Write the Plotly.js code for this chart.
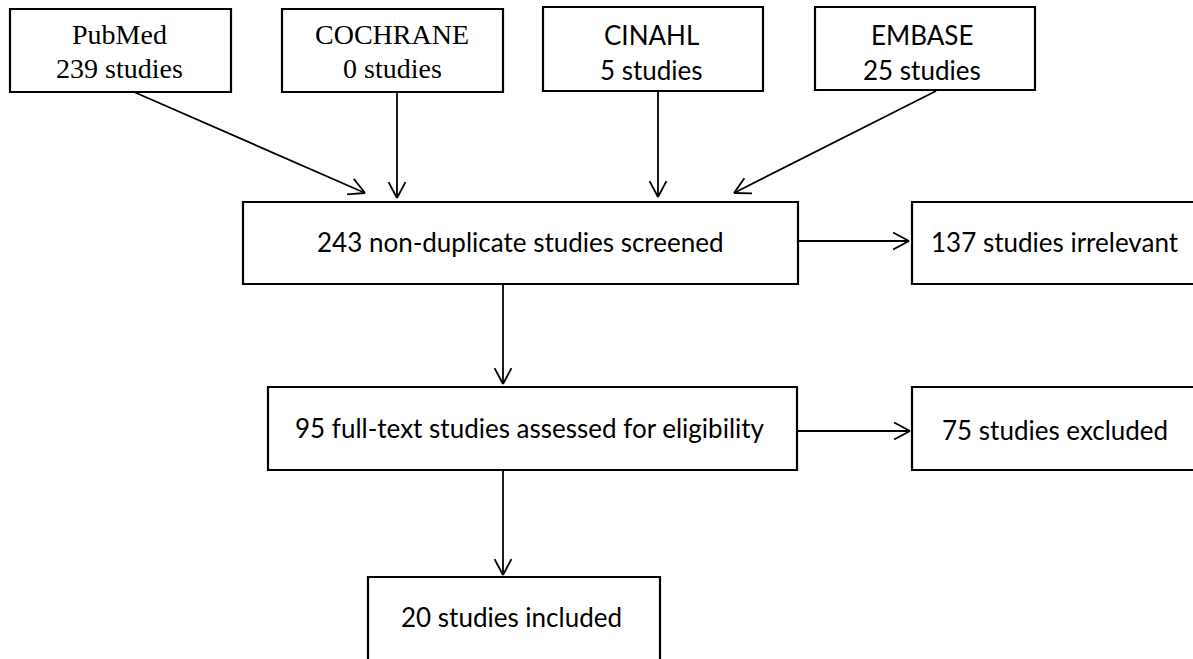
<!DOCTYPE html>
<html>
<head>
<meta charset="utf-8">
<script src="https://cdn.plot.ly/plotly-3.0.1.min.js"></script>
<style>html,body{margin:0;padding:0;background:#fff;}#chart{width:1193px;height:659px;}</style>
</head>
<body>
<div id="chart"></div>
<script>
// ---- data ----
const sourceNames = ['PubMed', 'COCHRANE', 'CINAHL', 'EMBASE'];
const sourceCounts = [239, 0, 5, 25];
const stageLabels = ['non-duplicate studies screened', 'full-text studies assessed for eligibility', 'studies included'];
const stageCounts = [243, 95, 20];
const exclLabels = ['studies irrelevant', 'studies excluded'];
const exclCounts = [137, 75];

// ---- geometry (pixel layout of the flow diagram) ----
const srcBoxes = [
  {x0: 10, x1: 231, y0: 9, y1: 92, cx: 119, l1: 34, l2: 68, font: 'Liberation Serif', size: 28},
  {x0: 282, x1: 503, y0: 9, y1: 92, cx: 392, l1: 34, l2: 68, font: 'Liberation Serif', size: 28},
  {x0: 543, x1: 763, y0: 7, y1: 91, cx: 651, l1: 35, l2: 70, font: 'Lato', size: 26},
  {x0: 815, x1: 1035, y0: 7, y1: 90, cx: 922, l1: 35, l2: 70, font: 'Lato', size: 26}
];
const srcArrows = [
  [134, 92, 365, 193],
  [397, 92, 397, 198],
  [658, 91, 658, 197],
  [936, 91, 734, 193]
];
const stageBoxes = [
  {x0: 243, x1: 798, y0: 202, y1: 284, cx: 520, cy: 242},
  {x0: 268, x1: 797, y0: 387, y1: 470, cx: 530, cy: 428},
  {x0: 368, x1: 660, y0: 577, y1: 662, cx: 511, cy: 617}
];
const exclBoxes = [
  {x0: 912, x1: 1196, y0: 202, y1: 284, cx: 1055, cy: 242},
  {x0: 912, x1: 1196, y0: 387, y1: 470, cx: 1055, cy: 430}
];
const flowArrows = [
  [503, 284, 503, 384],
  [503, 470, 503, 575],
  [798, 241, 909, 241],
  [797, 431, 910, 431]
];

const shapes = [];
const annotations = [];
const boxLine = {color: '#000', width: 2.2};
const arrowLine = {color: '#000', width: 1.8};

function addBox(b) {
  shapes.push({type: 'rect', xref: 'x', yref: 'y', x0: b.x0, x1: b.x1, y0: b.y0, y1: b.y1, line: boxLine, fillcolor: 'rgba(0,0,0,0)'});
}
function addArrow(a) {
  const [x0, y0, x1, y1] = a;
  shapes.push({type: 'line', xref: 'x', yref: 'y', x0, y0, x1, y1, line: arrowLine});
  const ang = Math.atan2(y1 - y0, x1 - x0);
  const L = 18, spread = 28 * Math.PI / 180;
  [ang + Math.PI - spread, ang + Math.PI + spread].forEach(t => {
    shapes.push({type: 'line', xref: 'x', yref: 'y', x0: x1, y0: y1,
      x1: x1 + L * Math.cos(t), y1: y1 + L * Math.sin(t), line: arrowLine});
  });
}
function addText(txt, x, y, font, size) {
  annotations.push({xref: 'x', yref: 'y', x, y, text: txt, showarrow: false,
    xanchor: 'center', yanchor: 'middle', font: {family: font, size, color: '#000'}});
}

srcBoxes.forEach((b, i) => {
  addBox(b);
  addText(sourceNames[i], b.cx, b.l1, b.font, b.size);
  addText(sourceCounts[i] + ' studies', b.cx, b.l2, b.font, b.size);
});
stageBoxes.forEach((b, i) => {
  addBox(b);
  addText(stageCounts[i] + ' ' + stageLabels[i], b.cx, b.cy, 'Lato', 26);
});
exclBoxes.forEach((b, i) => {
  addBox(b);
  addText(exclCounts[i] + ' ' + exclLabels[i], b.cx, b.cy, 'Lato', 26);
});
srcArrows.forEach(addArrow);
flowArrows.forEach(addArrow);

const layout = {
  width: 1193, height: 659,
  margin: {l: 0, r: 0, t: 0, b: 0},
  paper_bgcolor: '#fff', plot_bgcolor: '#fff',
  xaxis: {range: [0, 1193], visible: false, fixedrange: true},
  yaxis: {range: [659, 0], visible: false, fixedrange: true},
  shapes, annotations, showlegend: false
};
Plotly.newPlot('chart', [], layout, {staticPlot: true, displayModeBar: false});
</script>
</body>
</html>
